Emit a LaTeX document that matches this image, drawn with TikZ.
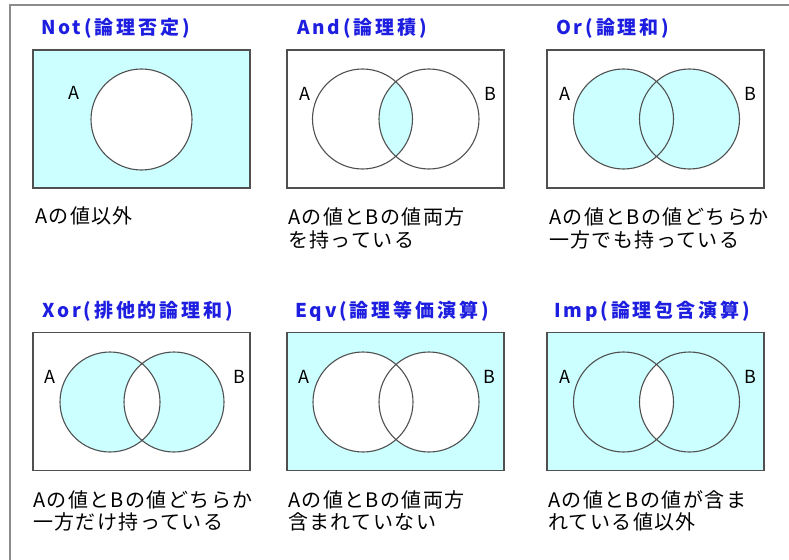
\documentclass[tikz,border=0pt]{standalone}
\usepackage{fontspec}
\setmainfont{Noto Sans CJK JP}
\newfontfamily\titlefont[LetterSpace=15]{Noto Sans CJK JP}
\newfontfamily\capfont[LetterSpace=7]{Noto Sans CJK JP}
\definecolor{vcyan}{RGB}{204,255,255}
\definecolor{vblue}{RGB}{30,30,225}
\definecolor{vline}{RGB}{80,80,80}
\definecolor{vframe}{RGB}{140,140,140}
\usetikzlibrary{positioning}

\begin{document}
\begin{tikzpicture}[x=1pt, y=-1pt,
  optitle/.style={anchor=base west, text=vblue, inner sep=0pt, font=\titlefont\bfseries\fontsize{19}{19}\selectfont},
  captext/.style={anchor=base west, align=left, inner sep=0pt, font=\capfont\fontsize{20}{22.5}\selectfont},
  venn/.style={draw=vline, line width=1.1pt, minimum width=217pt, minimum height=138pt, inner sep=0pt},
  setlabel/.style={anchor=base, inner sep=0pt, font=\fontsize{18}{18}\selectfont},
  ring/.style={draw=vline, line width=1.1pt}]
  \useasboundingbox (0,0) rectangle (789,559);
  \draw[vframe, line width=2pt] (10,570) -- (10,5) -- (800,5);

  % Not
  \node[optitle] (notT) at (41,35) {Not(論理否定)};
  \node[venn, fill=vcyan] (notBox) at (141.5,119) {};
  \coordinate (notA) at (141.5,119.5);
  \fill[white] (notA) circle (50.5);
  \draw[ring] (notA) circle (50.5);
  \node[setlabel] (notLA) at (74,100) {A};
  \node[captext] (notC) at (35,223) {Aの値以外};

  % And
  \node[optitle] (andT) at (297,35) {And(論理積)};
  \node[venn] (andBox) at (395.5,119) {};
  \coordinate (andA) at (362.5,119);
  \coordinate (andB) at (429,119);
  \begin{scope}
    \clip (andA) circle (50);
    \fill[vcyan] (andB) circle (50);
  \end{scope}
  \draw[ring] (andA) circle (50) (andB) circle (50);
  \node[setlabel] (andLA) at (305,101) {A};
  \node[setlabel] (andLB) at (490,101) {B};
  \node[captext] (andC) at (288,247) {Aの値とBの値両方\\を持っている};

  % Or
  \node[optitle] (orT) at (556,35) {Or(論理和)};
  \node[venn] (orBox) at (655.5,119) {};
  \coordinate (orA) at (623.5,119);
  \coordinate (orB) at (689.5,119);
  \fill[vcyan] (orA) circle (50) (orB) circle (50);
  \draw[ring] (orA) circle (50) (orB) circle (50);
  \node[setlabel] (orLA) at (565,101) {A};
  \node[setlabel] (orLB) at (750,101) {B};
  \node[captext] (orC) at (549,247) {Aの値とBの値どちらか\\一方でも持っている};

  % Xor
  \node[optitle] (xorT) at (42,317) {Xor(排他的論理和)};
  \node[venn] (xorBox) at (141.5,401.5) {};
  \coordinate (xorA) at (110,402);
  \coordinate (xorB) at (174,402);
  \fill[vcyan, even odd rule] (xorA) circle (50) (xorB) circle (50);
  \draw[ring] (xorA) circle (50) (xorB) circle (50);
  \node[setlabel] (xorLA) at (50,383) {A};
  \node[setlabel] (xorLB) at (239,383) {B};
  \node[captext] (xorC) at (33,529.5) {Aの値とBの値どちらか\\一方だけ持っている};

  % Eqv
  \node[optitle] (eqvT) at (295,317) {Eqv(論理等価演算)};
  \node[venn, fill=vcyan] (eqvBox) at (395.5,401.5) {};
  \coordinate (eqvA) at (363,402);
  \coordinate (eqvB) at (429,402);
  \fill[white] (eqvA) circle (50) (eqvB) circle (50);
  \draw[ring] (eqvA) circle (50) (eqvB) circle (50);
  \node[setlabel] (eqvLA) at (304,383) {A};
  \node[setlabel] (eqvLB) at (489,383) {B};
  \node[captext] (eqvC) at (288,529.5) {Aの値とBの値両方\\含まれていない};

  % Imp
  \node[optitle] (impT) at (554,317) {Imp(論理包含演算)};
  \node[venn, fill=vcyan] (impBox) at (655.5,401.5) {};
  \coordinate (impA) at (623.5,402);
  \coordinate (impB) at (689.5,402);
  \begin{scope}
    \clip (impA) circle (50);
    \fill[white] (impB) circle (50);
  \end{scope}
  \draw[ring] (impA) circle (50) (impB) circle (50);
  \node[setlabel] (impLA) at (565,383) {A};
  \node[setlabel] (impLB) at (750,383) {B};
  \node[captext] (impC) at (548,529.5) {Aの値とBの値が含ま\\れている値以外};
\end{tikzpicture}
\end{document}
